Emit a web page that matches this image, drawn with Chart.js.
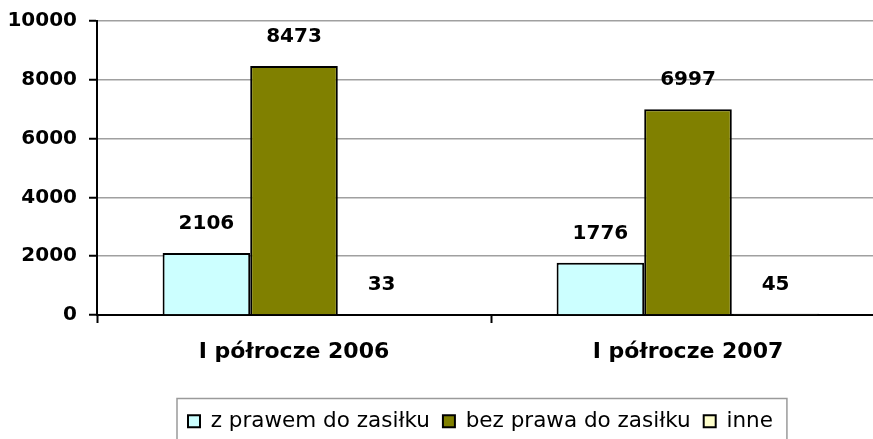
<!DOCTYPE html>
<html>
<head>
<meta charset="utf-8">
<script src="https://cdn.jsdelivr.net/npm/chart.js@4.4.0/dist/chart.umd.min.js"></script>
<style>
  html, body { margin: 0; padding: 0; background: #fff; overflow: hidden; }
  #wrap { width: 886px; height: 439px; }
</style>
</head>
<body>
<div id="wrap"><canvas id="chart" width="886" height="439"></canvas></div>
<script>
// dane z wykresu
const categories = ['I półrocze 2006', 'I półrocze 2007'];
const seriesNames = ['z prawem do zasiłku', 'bez prawa do zasiłku', 'inne'];
const zPrawem = [2106, 1776];
const bezPrawa = [8473, 6997];
const inne = [33, 45];
const yTicks = [0, 2000, 4000, 6000, 8000, 10000];

const colors = ['#CCFFFF', '#808000', '#FFFFCC'];
const BOLD = "'DejaVu Sans', sans-serif";

// etykiety nad słupkami
const valueLabels = {
  id: 'valueLabels',
  afterDatasetsDraw(chart) {
    const ctx = chart.ctx;
    ctx.save();
    ctx.font = 'bold 20px ' + BOLD;
    ctx.fillStyle = '#000';
    ctx.textAlign = 'center';
    ctx.textBaseline = 'middle';
    chart.data.datasets.forEach((ds, i) => {
      chart.getDatasetMeta(i).data.forEach((bar, j) => {
        ctx.fillText(String(ds.data[j]), bar.x, bar.y - 29);
      });
    });
    ctx.restore();
  }
};

// przesunięcie legendy i ramka wokół niej
const legendFrame = {
  id: 'legendFrame',
  beforeDraw(chart) {
    const lg = chart.legend;
    if (!lg || !lg.legendHitBoxes.length) return;
    const d = 188 - lg.legendHitBoxes[0].left;
    if (d !== 0) {
      lg.left += d;
      lg.right += d;
      lg.legendHitBoxes.forEach(h => { h.left += d; });
    }
  },
  afterDraw(chart) {
    const lg = chart.legend;
    if (!lg || !lg.legendHitBoxes.length) return;
    const first = lg.legendHitBoxes[0];
    const last = lg.legendHitBoxes[lg.legendHitBoxes.length - 1];
    const ctx = chart.ctx;
    ctx.save();
    ctx.strokeStyle = '#9a9a9a';
    ctx.lineWidth = 1.5;
    ctx.strokeRect(first.left - 11, 398.5, last.left + last.width + 14 - (first.left - 11), 60);
    ctx.restore();
  }
};

new Chart(document.getElementById('chart'), {
  type: 'bar',
  data: {
    labels: categories,
    datasets: [
      { label: seriesNames[0], data: zPrawem, backgroundColor: colors[0] },
      { label: seriesNames[1], data: bezPrawa, backgroundColor: colors[1] },
      { label: seriesNames[2], data: inne, backgroundColor: colors[2] }
    ].map(ds => Object.assign(ds, {
      borderColor: '#000',
      borderWidth: 2,
      categoryPercentage: 0.667,
      barPercentage: 1
    }))
  },
  options: {
    responsive: false,
    animation: false,
    layout: { padding: { top: 21, right: 1, left: 0, bottom: -3 } },
    plugins: {
      tooltip: { enabled: false },
      legend: {
        position: 'bottom',
        labels: {
          boxWidth: 12,
          boxHeight: 12,
          padding: 13,
          color: '#000',
          font: { family: "'DejaVu Sans', sans-serif", size: 21.5 }
        }
      }
    },
    scales: {
      x: {
        afterFit: s => { s.height = 439 + 3 - 315 - s.chart.legend.height; },
        grid: {
          offset: true,
          drawOnChartArea: false,
          tickLength: 8,
          tickColor: '#000',
          tickWidth: 2
        },
        border: { color: '#000', width: 2 },
        ticks: {
          color: '#000',
          padding: 16,
          maxRotation: 0,
          font: { family: BOLD, size: 22, weight: 'bold' }
        }
      },
      y: {
        min: 0,
        max: 10000,
        afterFit: s => { s.width = 97; s.paddingTop = 0; s.paddingBottom = 0; },
        afterBuildTicks: s => { s.ticks = yTicks.map(v => ({ value: v })); },
        grid: {
          color: '#a0a0a0',
          lineWidth: 1.5,
          tickLength: 8,
          tickColor: '#000',
          tickWidth: 2
        },
        border: { color: '#000', width: 2 },
        ticks: {
          color: '#000',
          padding: 12,
          callback: v => String(v),
          font: { family: BOLD, size: 20, weight: 'bold' }
        }
      }
    }
  },
  plugins: [valueLabels, legendFrame]
});
</script>
</body>
</html>
